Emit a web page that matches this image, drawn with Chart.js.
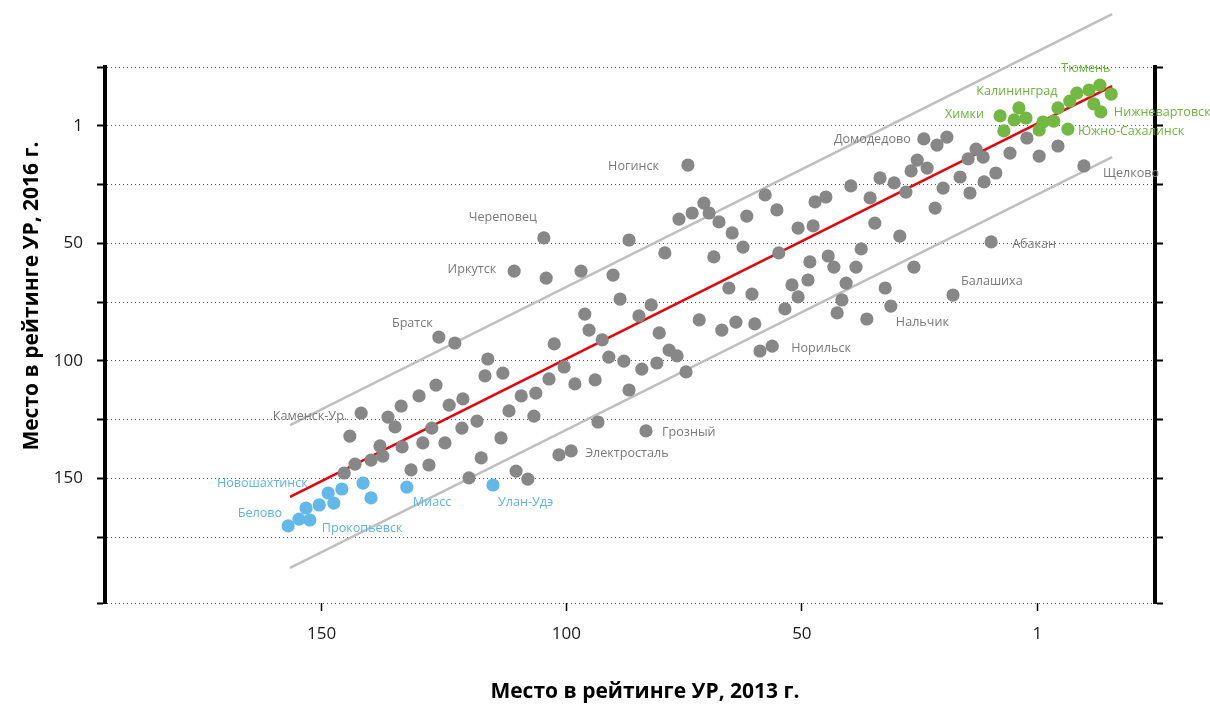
<!DOCTYPE html>
<html>
<head>
<meta charset="utf-8">
<script src="https://cdn.jsdelivr.net/npm/chart.js@4"></script>
<style>
  body { margin: 0; background: #fff; }
  #wrap { width: 1210px; height: 706px; }
</style>
</head>
<body>
<div id="wrap"><canvas id="ratingChart"></canvas></div>
<script>
// место 2013 (x) и место 2016 (y) для городов
var grayX = [127.1, 123.7, 143.6, 146.0, 137.9, 135.1, 136.4, 131.3, 127.7, 124.9, 122.0, 119.0, 122.2, 128.6, 130.5, 134.9, 125.8, 139.6, 139.0, 141.5,
  144.9, 147.2, 129.2, 133.0, 120.7, 118.1, 113.9, 112.2, 109.6, 106.5, 106.9, 103.7, 100.5, 116.7, 117.3, 113.5, 102.6, 110.7, 108.2, 101.6,
  99.0, 111.1, 104.3, 104.8, 96.9, 90.1, 86.7, 74.2, 88.6, 98.2, 93.9, 93.3, 96.1, 95.2, 92.4, 84.6, 82.0, 79.1, 76.1, 73.3,
  70.8, 69.7, 67.6, 64.8, 62.5, 68.7, 61.7, 57.8, 55.3, 50.8, 47.6, 47.2, 44.9, 39.6, 35.5, 33.4, 30.4, 27.9, 26.8, 25.5,
  23.4, 20.0, 21.7, 16.4, 34.5, 29.2, 24.1, 21.3, 19.2, 54.9, 37.4, 44.4, 43.2, 38.5, 48.3, 48.7, 52.1, 50.8, 40.6, 41.5,
  42.5, 36.2, 32.3, 31.1, 26.2, 17.9, 53.6, 60.0, 64.0, 67.0, 71.8, 65.5, 60.6, 80.3, 78.2, 76.5, 91.0, 87.8, 84.0, 80.8,
  74.6, 86.7, 58.9, 56.3, 83.1, 14.7, 13.0, 11.5, 14.3, 11.3, 8.8, 5.8, 2.2, -0.4, -4.4, -9.9, 9.8];
var grayY = [89.9, 92.4, 122.2, 132.0, 123.9, 119.2, 128.1, 114.9, 110.3, 118.8, 116.2, 125.6, 128.6, 128.6, 134.9, 136.6, 134.9, 136.2, 140.5, 142.2,
  143.9, 147.7, 144.3, 146.4, 149.8, 141.3, 132.8, 121.3, 114.9, 113.7, 123.5, 107.7, 102.6, 99.2, 106.4, 105.2, 92.8, 146.9, 150.3, 140.0,
  138.3, 61.8, 64.8, 47.7, 61.8, 63.5, 48.6, 16.7, 73.7, 109.8, 108.1, 126.0, 80.1, 86.9, 91.1, 80.9, 76.2, 54.1, 39.7, 37.1,
  32.9, 37.1, 40.9, 45.6, 51.6, 55.8, 38.4, 29.4, 35.8, 43.5, 42.6, 32.4, 30.3, 25.6, 30.7, 22.2, 24.3, 28.2, 19.2, 14.6,
  18.0, 26.5, 35.0, 21.8, 41.4, 46.9, 5.6, 8.2, 4.8, 54.1, 52.4, 55.4, 60.1, 60.1, 57.9, 65.6, 67.7, 72.8, 66.9, 74.1,
  79.6, 82.2, 69.0, 76.7, 60.1, 72.0, 77.9, 84.3, 83.5, 86.9, 82.6, 69.0, 71.6, 88.1, 95.4, 97.9, 98.4, 100.1, 103.5, 100.9,
  104.7, 112.4, 95.8, 93.7, 129.8, 14.1, 9.9, 13.3, 28.6, 23.9, 20.1, 11.6, 5.2, 12.9, 8.6, 17.1, 49.4];

var greenX = [7.9, 7.1, 4.9, 3.9, 2.4, -0.4, -1.2, -3.5, -4.4, -6.5, -6.9, -8.4, -11.0, -12.0, -13.3, -13.5, -15.7];
var greenY = [-4.2, 2.2, -2.5, -7.6, -3.3, 1.8, -1.6, -2.0, -7.6, 1.4, -10.5, -13.9, -15.2, -9.3, -17.3, -5.9, -13.5];

var blueX = [159.1, 156.8, 155.3, 154.5, 152.5, 150.6, 149.4, 147.7, 143.2, 141.5, 133.9, 115.6];
var blueY = [170.2, 167.3, 162.6, 167.7, 161.3, 156.2, 160.5, 154.5, 152.0, 158.3, 153.7, 152.8];

// линия y = x и границы коридора
var lineX = [158.7, -15.9];
var midY = [157.9, -16.9];
var upperY = [127.3, -47.5];
var lowerY = [188.1, 13.3];

var xTickValues = [152, 100, 50, 0];
var xTickLabels = ['150', '100', '50', '1'];
var yTickValues = [-25, 0, 25, 50, 75, 100, 125, 150, 175, 203];
var yTickLabels = ['', '1', '', '50', '', '100', '', '150', '', ''];

var cityNames = ['Ногинск', 'Череповец', 'Иркутск', 'Братск', 'Каменск-Ур.', 'Домодедово', 'Щелково', 'Абакан', 'Балашиха',
  'Нальчик', 'Норильск', 'Грозный', 'Электросталь',
  'Тюмень', 'Калининград', 'Химки', 'Нижневартовск', 'Южно-Сахалинск',
  'Новошахтинск', 'Белово', 'Прокопьевск', 'Миасс', 'Улан-Удэ'];
var cityX = [74.2, 104.8, 111.1, 127.1, 143.6, 24.1, -9.9, 9.8, 17.9, 31.1, 56.3, 83.1, 99.0,
  -13.3, 3.9, 7.9, -13.5, -6.5,
  147.7, 159.1, 154.5, 133.9, 115.6];
var cityY = [16.7, 47.7, 61.8, 89.9, 122.2, 5.6, 17.1, 49.4, 72.0, 76.7, 93.7, 129.8, 138.3,
  -17.3, -7.6, -4.2, -5.9, 1.4,
  154.5, 170.2, 167.7, 153.7, 152.8];
var cityGroup = ['g', 'g', 'g', 'g', 'g', 'g', 'g', 'g', 'g', 'g', 'g', 'g', 'g',
  'top', 'top', 'top', 'top', 'top',
  'low', 'low', 'low', 'low', 'low'];

// смещение подписи от точки, px
var labelPlace = [[-29, 1, 'right'], [-7, -21, 'right'], [-18, -2, 'right'], [-6, -14, 'right'], [-14, 3, 'right'],
  [-13, 0, 'right'], [19, 7, 'left'], [21, 3, 'left'], [8, -14, 'left'], [5, 16, 'left'], [19, 2, 'left'],
  [16, 1, 'left'], [14, 3, 'left'],
  [-14, -17, 'center'], [-2, -16, 'center'], [-16, -1, 'right'], [13, 1, 'left'], [10, 2, 'left'],
  [-34, -6, 'right'], [-6, -12, 'right'], [12, 8, 'left'], [6, 15, 'left'], [5, 17, 'left']];

var colors = { g: '#878787', top: '#72b843', low: '#62b9e9' };
var textColors = { g: '#7a7a7a', top: '#6db53d', low: '#5cb5e5' };

function pts(xs, ys) {
  return xs.map(function (v, i) { return { x: v, y: ys[i] }; });
}

function dotSet(xs, ys, color) {
  return {
    data: pts(xs, ys),
    backgroundColor: color,
    borderWidth: 0,
    pointRadius: 6.6,
    pointHoverRadius: 6.6,
    order: 1
  };
}

function lineSet(ys, color) {
  return {
    data: pts(lineX, ys),
    showLine: true,
    borderColor: color,
    borderWidth: 2.5,
    pointRadius: 0,
    fill: false,
    clip: false,
    order: 2
  };
}

var labelsPlugin = {
  id: 'cityLabels',
  afterDatasetsDraw: function (chart) {
    var ctx = chart.ctx, sx = chart.scales.x, sy = chart.scales.y;
    ctx.save();
    ctx.font = '12.6px "Open Sans"';
    ctx.textBaseline = 'middle';
    cityNames.forEach(function (name, i) {
      var p = labelPlace[i];
      ctx.fillStyle = textColors[cityGroup[i]];
      ctx.textAlign = p[2];
      ctx.fillText(name, sx.getPixelForValue(cityX[i]) + p[0], sy.getPixelForValue(cityY[i]) + p[1]);
    });
    ctx.font = 'bold 21px "Open Sans"';
    ctx.fillStyle = '#000';
    ctx.textAlign = 'center';
    ctx.fillText('Место в рейтинге УР, 2013 г.', 645, 692);
    ctx.translate(32, 296);
    ctx.rotate(-Math.PI / 2);
    ctx.fillText('Место в рейтинге УР, 2016 г.', 0, 0);
    ctx.restore();
  }
};

function setYTicks(axis) {
  axis.ticks = yTickValues.map(function (v) { return { value: v }; });
}

Chart.defaults.font.family = '"Open Sans", sans-serif';

new Chart(document.getElementById('ratingChart'), {
  type: 'scatter',
  data: {
    datasets: [
      lineSet(upperY, '#bfbfbf'),
      lineSet(lowerY, '#bfbfbf'),
      lineSet(midY, '#e8000b'),
      dotSet(grayX, grayY, colors.g),
      dotSet(greenX, greenY, colors.top),
      dotSet(blueX, blueY, colors.low)
    ]
  },
  options: {
    responsive: true,
    maintainAspectRatio: false,
    animation: false,
    layout: { padding: { top: 67, left: 0, right: 0, bottom: 0 } },
    plugins: { legend: { display: false }, tooltip: { enabled: false } },
    scales: {
      x: {
        type: 'linear',
        reverse: true,
        min: -25,
        max: 198,
        afterBuildTicks: function (axis) {
          axis.ticks = xTickValues.map(function (v) { return { value: v }; });
        },
        afterFit: function (axis) { axis.height = 103; },
        ticks: {
          padding: 13,
          color: '#1a1a1a',
          font: { size: 17 },
          callback: function (v, i) { return xTickLabels[i]; }
        },
        grid: { drawOnChartArea: false, drawTicks: true, tickLength: 8, tickColor: '#000', tickWidth: 1.5 },
        border: { display: false }
      },
      y: {
        type: 'linear',
        position: 'left',
        reverse: true,
        min: -25,
        max: 203,
        afterBuildTicks: setYTicks,
        afterFit: function (axis) { axis.width = 105; },
        ticks: {
          padding: 14,
          color: '#1a1a1a',
          font: { size: 17 },
          callback: function (v, i) { return yTickLabels[i]; }
        },
        grid: { color: '#555', lineWidth: 1, tickLength: 8, tickColor: '#000', tickWidth: 2 },
        border: { display: true, color: '#000', width: 4, dash: [1, 3] }
      },
      y2: {
        type: 'linear',
        position: 'right',
        reverse: true,
        min: -25,
        max: 203,
        afterBuildTicks: setYTicks,
        afterFit: function (axis) { axis.width = 55; },
        ticks: { display: false },
        grid: { drawOnChartArea: false, tickLength: 8, tickColor: '#000', tickWidth: 2 },
        border: { display: true, color: '#000', width: 4 }
      }
    }
  },
  plugins: [labelsPlugin]
});
</script>
</body>
</html>
